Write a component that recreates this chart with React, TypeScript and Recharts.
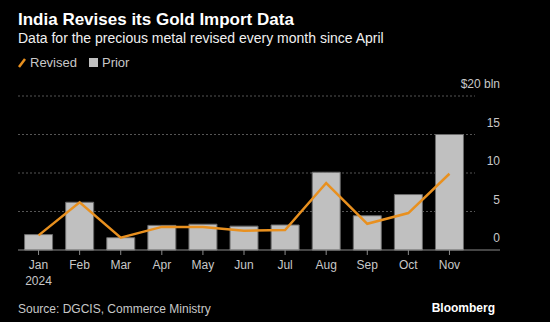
import { ComposedChart, Bar, Line, XAxis, YAxis, CartesianGrid } from "recharts";

const months = ["Jan", "Feb", "Mar", "Apr", "May", "Jun", "Jul", "Aug", "Sep", "Oct", "Nov"];
const prior = [2.0, 6.2, 1.6, 3.2, 3.35, 3.1, 3.25, 10.1, 4.45, 7.2, 15.0];
const revised = [1.9, 6.2, 1.6, 3.0, 3.0, 2.5, 2.6, 8.7, 3.4, 4.8, 9.9];
const yTicks = [0, 5, 10, 15, 20];

const FONT = "'Liberation Sans', Arial, sans-serif";
const ORANGE = "#e8901f";
const GREY_BAR = "#c0c0c0";

const data = months.map((m, i) => ({ month: m, prior: prior[i], revised: revised[i] }));

function MonthTick(props: any) {
  const { x, y, payload } = props;
  return (
    <g>
      <text x={x} y={y + 12} textAnchor="middle" fill="#c8c8c8" fontSize={12} fontFamily={FONT}>
        {payload.value}
      </text>
      {payload.index === 0 && (
        <text x={x} y={y + 28} textAnchor="middle" fill="#c8c8c8" fontSize={12} fontFamily={FONT}>
          2024
        </text>
      )}
    </g>
  );
}

function ValueTick(props: any) {
  const { x, y, payload } = props;
  const label = payload.value === 20 ? "$20 bln" : String(payload.value);
  return (
    <g>
      {payload.value === 0 ? (
        <line x1={x} x2={x + 30} y1={y} y2={y} stroke="#8a8a8a" strokeWidth={1} />
      ) : (
        <line x1={x} x2={x + 5} y1={y} y2={y} stroke="#555" strokeDasharray="2 2" />
      )}
      <text x={x + 30} y={y - 8} textAnchor="end" fill="#c8c8c8" fontSize={12} fontFamily={FONT}>
        {label}
      </text>
    </g>
  );
}

export default function App() {
  return (
    <div
      style={{
        position: "absolute",
        left: 0,
        top: 0,
        width: 550,
        height: 322,
        background: "#000",
        fontFamily: FONT,
        overflow: "hidden",
      }}
    >
      {/* Header */}
      <div style={{ position: "absolute", left: 18, top: 10, color: "#fff", fontSize: 17, fontWeight: 700 }}>
        India Revises its Gold Import Data
      </div>
      <div style={{ position: "absolute", left: 18, top: 30, color: "#f0f0f0", fontSize: 14 }}>
        Data for the precious metal revised every month since April
      </div>

      {/* Legend */}
      <div style={{ position: "absolute", left: 18, top: 55, display: "flex", alignItems: "center", fontSize: 13, color: "#c8c8c8" }}>
        <svg width={8} height={10} style={{ marginRight: 4 }}>
          <line x1={1} y1={9} x2={7} y2={1} stroke={ORANGE} strokeWidth={2.5} />
        </svg>
        <span style={{ marginRight: 12 }}>Revised</span>
        <span style={{ display: "inline-block", width: 9, height: 9, background: GREY_BAR, marginRight: 4 }} />
        <span>Prior</span>
      </div>

      {/* Chart */}
      <div style={{ position: "absolute", left: 0, top: 0 }}>
        <ComposedChart
          width={550}
          height={322}
          data={data}
          margin={{ top: 96, right: 50, left: 18, bottom: 32 }}
          barCategoryGap="16%"
        >
          <CartesianGrid vertical={false} stroke="#555" strokeDasharray="2 2" horizontalValues={[5, 10, 15, 20]} />
          <XAxis
            dataKey="month"
            tick={<MonthTick />}
            tickLine={{ stroke: "#8a8a8a" }}
            tickSize={5}
            axisLine={{ stroke: "#8a8a8a" }}
            interval={0}
            height={40}
          />
          <YAxis
            orientation="right"
            domain={[0, 20]}
            ticks={yTicks}
            width={30}
            tick={<ValueTick />}
            tickLine={false}
            tickSize={0}
            tickMargin={0}
            axisLine={false}
          />
          <Bar dataKey="prior" fill={GREY_BAR} stroke="#6a6a6a" strokeWidth={1} isAnimationActive={false} />
          <Line
            dataKey="revised"
            type="linear"
            stroke={ORANGE}
            strokeWidth={2.5}
            dot={false}
            isAnimationActive={false}
          />
        </ComposedChart>
      </div>

      {/* Footer */}
      <div style={{ position: "absolute", left: 18, top: 302, color: "#c8c8c8", fontSize: 12 }}>
        Source: DGCIS, Commerce Ministry
      </div>
      <div style={{ position: "absolute", right: 55, top: 301, color: "#fff", fontSize: 12, fontWeight: 700 }}>
        Bloomberg
      </div>
    </div>
  );
}
